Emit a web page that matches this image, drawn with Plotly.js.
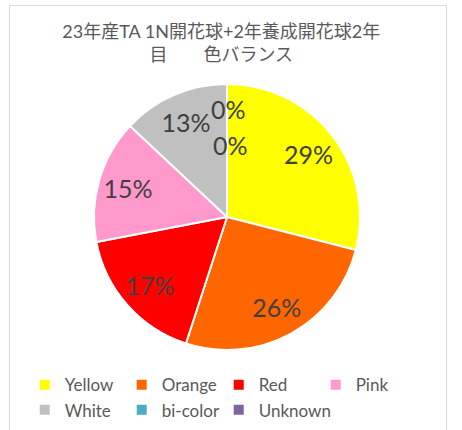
<!DOCTYPE html>
<html>
<head>
<meta charset="utf-8">
<script src="https://cdn.plot.ly/plotly-3.0.1.min.js"></script>
<style>
  body { margin: 0; background: #fff; }
  #frame { position: absolute; left: 9px; top: 5px; width: 436px; height: 440px; border: 1px solid #d9d9d9; }
  #chart { position: absolute; left: 0; top: 0; width: 462px; height: 430px; }
</style>
</head>
<body>
<div id="frame"></div>
<div id="chart"></div>
<script>
// 色別の割合 (%)
const colorNames = ["Yellow", "Orange", "Red", "Pink", "White", "bi-color", "Unknown"];
const shares = [29, 26, 17, 15, 13, 0, 0];
const sliceColors = ["#FFFF00", "#FF6600", "#FF0000", "#FF99CC", "#C0C0C0", "#4BACC6", "#8064A2"];

const font = "Lato, 'Noto Sans CJK JP', sans-serif";
const pieDomain = { x: [94 / 462, 360 / 462], y: [80 / 430, 346 / 430] };

// full pie underneath (colours + legend)
const basePie = {
    type: "pie",
    labels: colorNames,
    values: shares,
    sort: false,
    direction: "clockwise",
    rotation: 0,
    marker: { colors: sliceColors, line: { color: "#ffffff", width: 2 } },
    textinfo: "none",
    hoverinfo: "label+percent",
    domain: pieDomain
};

// transparent ring on top, only to push the % labels outwards
const labelRing = {
    type: "pie",
    labels: colorNames,
    values: shares,
    sort: false,
    direction: "clockwise",
    rotation: 0,
    hole: 0.55,
    showlegend: false,
    hoverinfo: "skip",
    marker: { colors: colorNames.map(() => "rgba(0,0,0,0)"), line: { width: 0 } },
    textinfo: "percent",
    textposition: "inside",
    insidetextorientation: "horizontal",
    textfont: { size: 25, color: "#404040", family: font },
    domain: pieDomain
};

// Plotly drops text on zero slices, so the 0% labels go in as annotations
const zeroLabels = colorNames
    .map((name, i) => ({ name, v: shares[i] }))
    .filter(d => d.v === 0);
const zeroPos = [[228, 109], [230, 145]];
const annotations = zeroLabels.map((d, i) => ({
    text: Math.round(d.v) + "%",
    x: zeroPos[i][0] / 462, y: 1 - zeroPos[i][1] / 430,
    xref: "paper", yref: "paper",
    xanchor: "center", yanchor: "middle",
    showarrow: false,
    font: { size: 25, color: "#404040", family: font }
}));

const layout = {
    width: 462,
    height: 430,
    margin: { l: 0, r: 0, t: 0, b: 0, autoexpand: false },
    paper_bgcolor: "rgba(0,0,0,0)",
    title: {
        text: "23年産TA 1N開花球+2年養成開花球2年<br>目　　色バランス",
        font: { size: 18, color: "#595959", family: font },
        xref: "paper", x: 0.479, xanchor: "center",
        y: 0.912, yanchor: "top"
    },
    legend: {
        orientation: "h",
        x: 0.0535, xanchor: "left",
        y: 0.146, yanchor: "top",
        entrywidth: 52,
        font: { size: 17, color: "#595959", family: font },
        traceorder: "normal"
    },
    annotations: annotations,
    showlegend: true
};

Plotly.newPlot("chart", [basePie, labelRing], layout, { displayModeBar: false });
</script>
</body>
</html>
